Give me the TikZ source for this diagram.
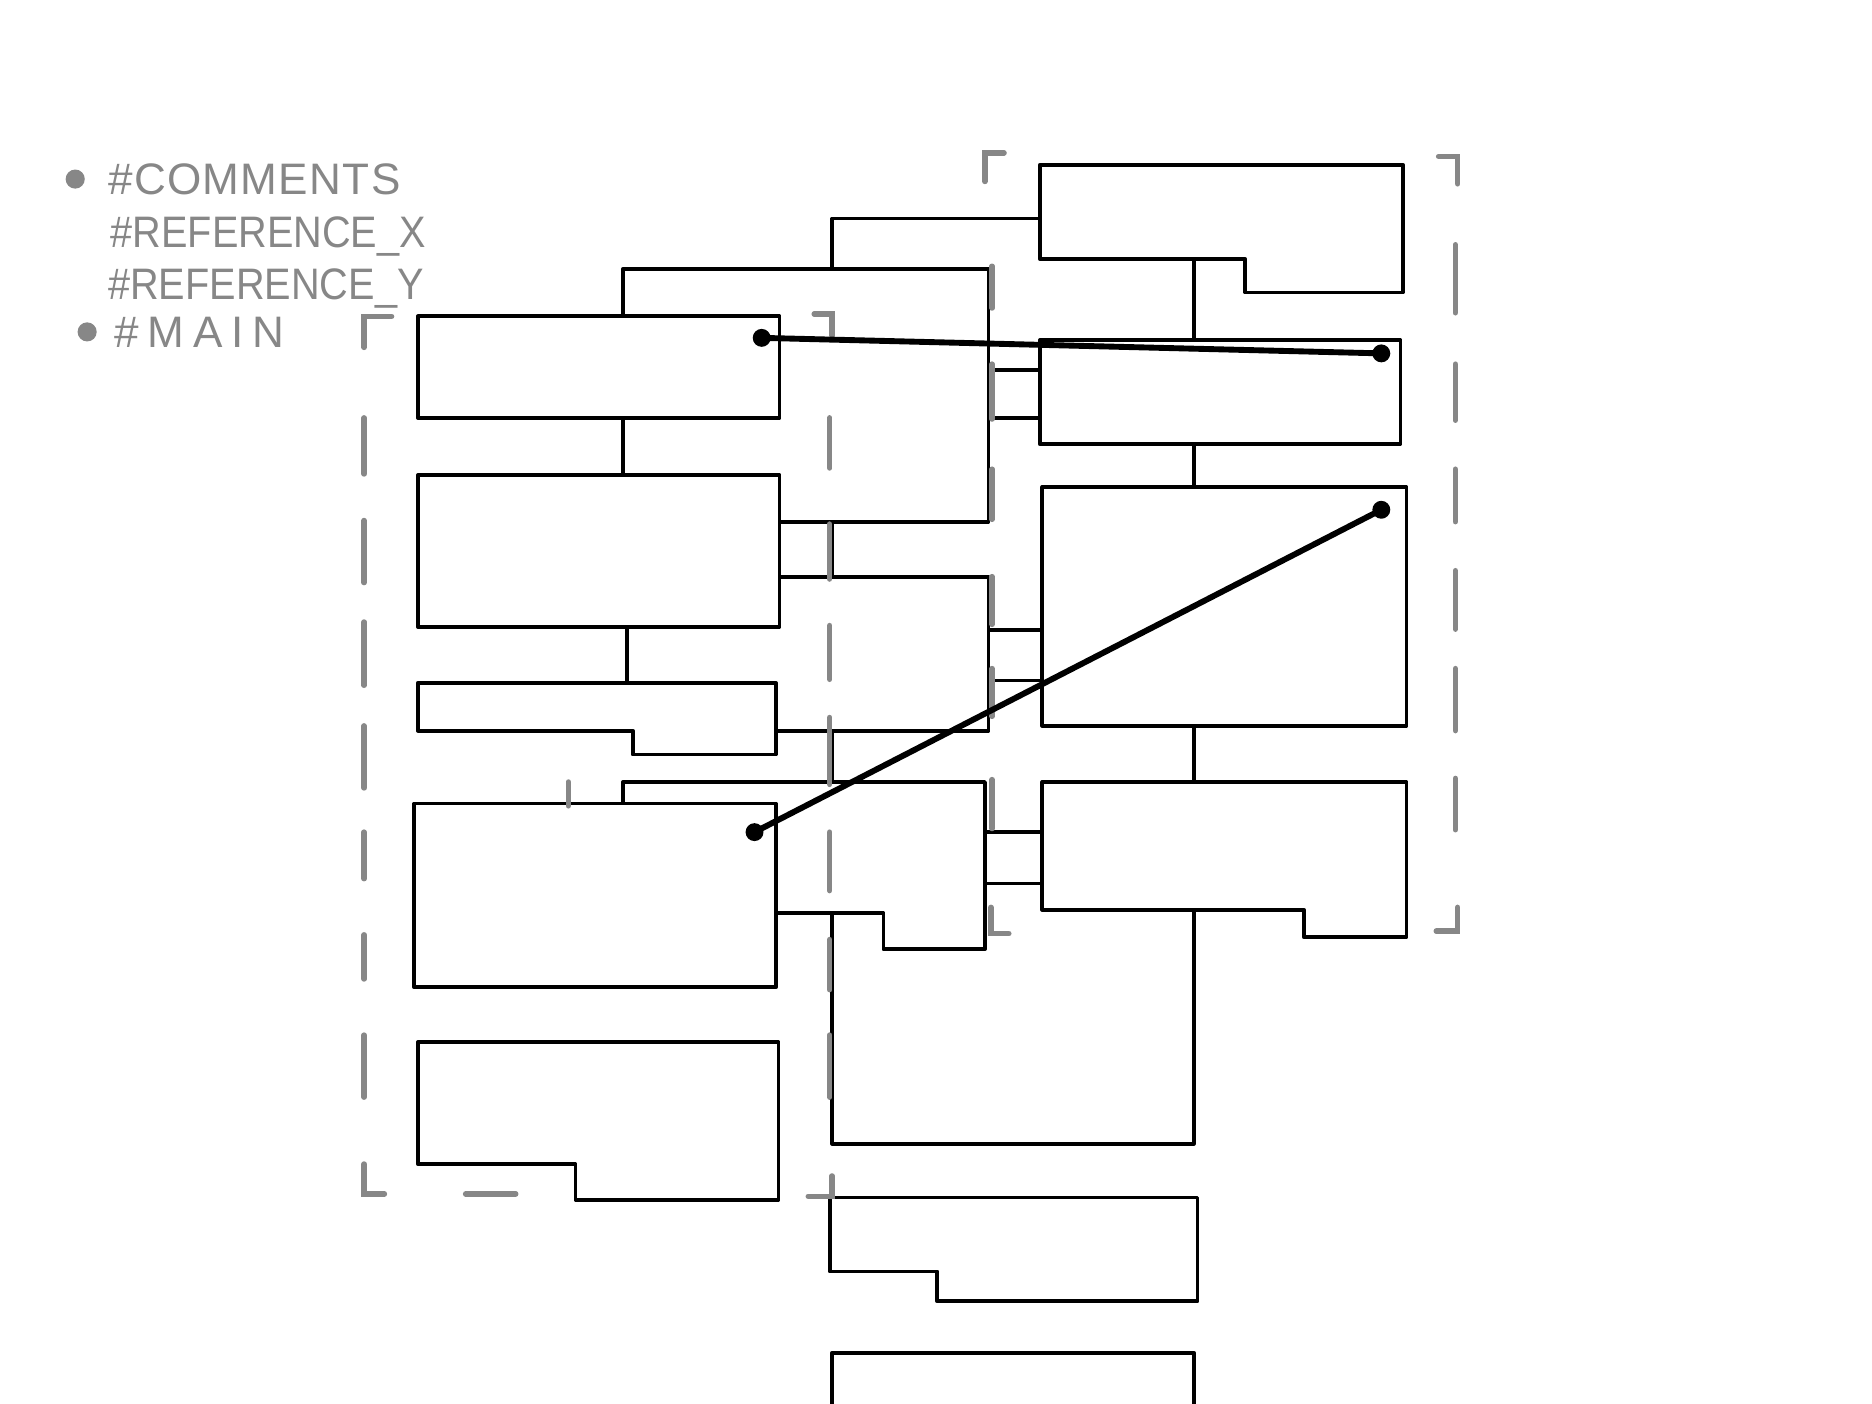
\documentclass[tikz,border=0pt]{standalone}
\usepackage{fontspec}
\setmainfont{Liberation Sans}
\usetikzlibrary{positioning}
\definecolor{SketchGray}{RGB}{135,135,135}

\begin{document}
\begin{tikzpicture}[
    x=0.01cm, y=-0.01cm,
    box/.style={draw=black, fill=white, line width=0.9pt, line join=round},
    frame/.style={draw=SketchGray, line width=1.3pt, line cap=round},
    link/.style={draw=black, line width=1.4pt, line cap=round},
    pin/.style={circle, fill=black, inner sep=0pt, minimum size=1.5mm},
    bullet/.style={circle, fill=SketchGray, inner sep=0pt, minimum size=1.6mm},
    tag/.style={font=\fontsize{10.5}{12}\selectfont, text=SketchGray, anchor=base west, inner sep=0pt}
]
\useasboundingbox (0,0) rectangle (1568,1176);

% back block
\draw[box] (697,183) rectangle (1000,958);
% bridges between middle and right column
\foreach \t/\b in {310/350, 528/570, 697/740}
  \draw[box] (790,\t) rectangle (900,\b);
% middle column
\draw[box] (522,225) rectangle (828,437);
\draw[box] (525,483) rectangle (828,612);
\draw[box] (522,655) -- (825,655) -- (825,795) -- (740,795) -- (740,765) -- (522,765) -- cycle;
% left column
\draw[box] (350,265) rectangle (653,350);
\draw[box] (350,398) rectangle (653,525);
\draw[box] (350,572) -- (650,572) -- (650,632) -- (530,632) -- (530,612) -- (350,612) -- cycle;
\draw[box] (347,673) rectangle (650,827);
\draw[box] (350,873) -- (652,873) -- (652,1005) -- (482,1005) -- (482,975) -- (350,975) -- cycle;
% right column
\draw[box] (871,138) -- (1175,138) -- (1175,245) -- (1043,245) -- (1043,217) -- (871,217) -- cycle;
\draw[box] (871,285) rectangle (1173,372);
\draw[box] (873,408) rectangle (1178,608);
\draw[box] (873,655) -- (1178,655) -- (1178,785) -- (1092,785) -- (1092,762) -- (873,762) -- cycle;
% lower column
\draw[box] (695,1003) -- (1003,1003) -- (1003,1090) -- (785,1090) -- (785,1065) -- (695,1065) -- cycle;
\draw[box] (697,1180) -- (697,1133) -- (1000,1133) -- (1000,1180);

% left frame
\draw[frame] (328,265) -- (305,265) -- (305,291);
\draw[frame] (305,975) -- (305,1000) -- (322,1000);
\draw[frame] (682,263) -- (697,263) -- (697,281);
\draw[frame] (677,1002) -- (697,1002) -- (697,985);
\draw[frame] (390,1000) -- (432,1000);
\draw[frame] (476,655) -- (476,675);
\foreach \a/\b in {350/397, 436/488, 521/574, 608/660, 697/736, 783/820, 867/919}
  \draw[frame] (305,\a) -- (305,\b);
\foreach \a/\b in {350/392, 439/485, 524/569, 601/657, 697/746, 787/829, 867/919}
  \draw[frame] (695,\a) -- (695,\b);

% right frame
\draw[frame] (825,152) -- (825,128) -- (841,128);
\draw[frame] (1205,131) -- (1221,131) -- (1221,154);
\draw[frame] (830,760) -- (830,782) -- (845,782);
\draw[frame] (1203,780) -- (1221,780) -- (1221,760);
\foreach \a/\b in {223/258, 305/351, 393/435, 483/523, 560/600, 653/694}
  \draw[frame] (831,\a) -- (831,\b);
\foreach \a/\b in {205/262, 305/352, 393/437, 478/527, 560/612, 652/695}
  \draw[frame] (1219,\a) -- (1219,\b);

% legend
\node[bullet] (b1) at (63,150) {};
\node[tag] (comments) at (90,163) {\addfontfeature{LetterSpace=3}\#COMMENTS};
\node[tag] (refx) at (92,207) {\addfontfeature{FakeStretch=0.9}\#REFERENCE\_X};
\node[tag] (refy) at (90,251) {\addfontfeature{FakeStretch=0.9}\#REFERENCE\_Y};
\node[bullet] (b2) at (73,278) {};
\node[tag] (main) at (95,291) {\addfontfeature{LetterSpace=20}\#MAIN};

% main links
\node[pin] (p1) at (638,283) {};
\node[pin] (p2) at (1157,296) {};
\node[pin] (p3) at (632,697) {};
\node[pin] (p4) at (1157,427) {};
\draw[link] (p1.center) -- (p2.center);
\draw[link] (p3.center) -- (p4.center);
\end{tikzpicture}
\end{document}
